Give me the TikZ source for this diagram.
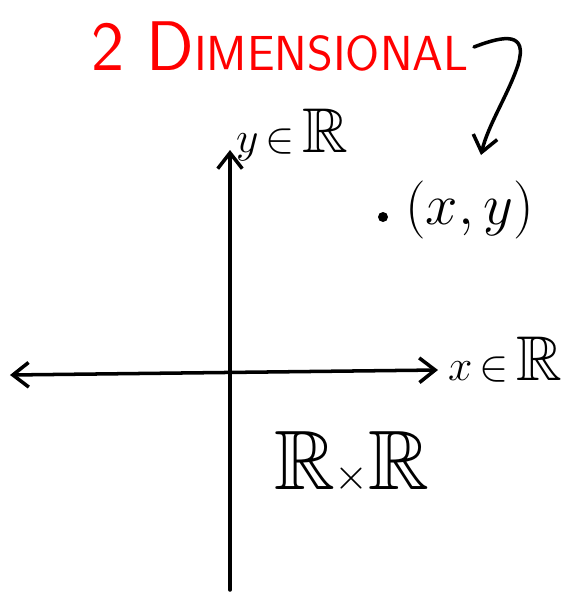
\documentclass[tikz,border=0pt]{standalone}
\usepackage{amssymb}
\usepackage{graphicx}
\usetikzlibrary{arrows.meta,positioning}
\definecolor{penred}{rgb}{1,0,0}
\begin{document}
\begin{tikzpicture}[x=0.02cm,y=-0.02cm]
        \useasboundingbox (0,0) rectangle (566,593);
        \tikzset{pen/.style={line width=2pt,line cap=round,line join=round},
                 tip/.style={-{Straight Barb[length=9pt,width=14pt]}}}
        \coordinate (xl) at (10,375);
        \coordinate (xr) at (438,370);
        \coordinate (yb) at (230,590);
        \coordinate (yt) at (230,150);
        \coordinate (pt) at (383,217);
        %Title
        \node[text=penred,font=\sffamily] (title) at (280,47)
          {\fontsize{40}{40}\selectfont 2 D\fontsize{28}{28}\selectfont IMENSIONAL};
        \coordinate (hook) at (474,47);
        \coordinate (hooktip) at (481,155);
        \draw[pen,tip] (hook) .. controls (505,35) and (528,32) .. (518,65) .. controls (508,95) and (488,125) .. (hooktip);
        %Axis
        \draw[pen,{Straight Barb[length=9pt,width=14pt]}-{Straight Barb[length=9pt,width=14pt]}] (xl) -- (xr);
        \draw[pen,tip] (yb) -- (yt);
        \node[font=\fontsize{36}{36}\selectfont] (xlab) at (505,360) {$x\,{\scriptstyle\in}\,\mathbb{R}$};
        \node[font=\fontsize{36}{36}\selectfont] (ylab) at (292,135) {$y\,{\scriptstyle\in}\,\mathbb{R}$};
        %Point
        \fill (pt) circle (5);
        \node[font=\fontsize{36}{36}\selectfont,anchor=west] (ptlab) at (399,210) {\scalebox{1.33}{$(x,y)$}};
        %Plane
        \node[font=\fontsize{48}{48}\selectfont] (plane) at (352,462) {$\mathbb{R}{\scriptstyle\times}\mathbb{R}$};
      \end{tikzpicture}
\end{document}
